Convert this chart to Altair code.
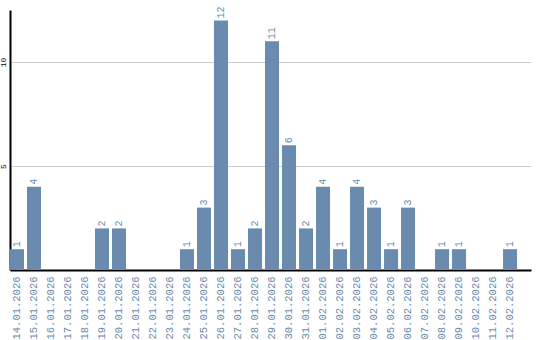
import altair as alt
import pandas as pd

dates = ["14.01.2026", "15.01.2026", "16.01.2026", "17.01.2026", "18.01.2026",
         "19.01.2026", "20.01.2026", "21.01.2026", "22.01.2026", "23.01.2026",
         "24.01.2026", "25.01.2026", "26.01.2026", "27.01.2026", "28.01.2026",
         "29.01.2026", "30.01.2026", "31.01.2026", "01.02.2026", "02.02.2026",
         "03.02.2026", "04.02.2026", "05.02.2026", "06.02.2026", "07.02.2026",
         "08.02.2026", "09.02.2026", "10.02.2026", "11.02.2026", "12.02.2026"]
values = [1, 4, 0, 0, 0, 2, 2, 0, 0, 0, 1, 3, 12, 1, 2, 11, 6, 2, 4, 1,
          4, 3, 1, 3, 0, 1, 1, 0, 0, 1]

df = pd.DataFrame({"d": dates, "v": values})

COLOR = "#6a8bad"
FONT = "Liberation Mono"

x = alt.X("d:N", sort=dates, title=None,
          scale=alt.Scale(paddingInner=0.176, paddingOuter=0.41, align=0),
          axis=alt.Axis(labelAngle=270, labelColor=COLOR, labelFont=FONT,
                        labelFontSize=10.5, ticks=False, labelPadding=6,
                        domainColor="#000", domainWidth=2, grid=False))
y = alt.Y("v:Q", title=None,
          scale=alt.Scale(domain=[0, 12.5], nice=False),
          axis=alt.Axis(values=[5, 10], labelAngle=270, labelFont=FONT,
                        labelFontSize=8, labelColor="#000", ticks=False,
                        labelPadding=3, domainColor="#000", domainWidth=2,
                        gridColor="#cccccc", grid=True, labelAlign="center",
                        labelBaseline="bottom"))

bars = alt.Chart(df).mark_bar(color=COLOR).encode(x=x, y=y)
labels = alt.Chart(df).transform_filter("datum.v > 0").mark_text(
    angle=270, align="left", baseline="middle", dx=2, color=COLOR,
    font=FONT, fontSize=10
).encode(x=alt.X("d:N", sort=dates), y="v:Q", text="v:Q")

chart = (bars + labels).properties(
    width=521, height=260,
    autosize=alt.AutoSizeParams(type="none"),
    padding={"left": 10, "top": 10, "right": 9, "bottom": 70},
).configure_view(stroke=None)

chart.save("out.html", embed_options={"renderer": "svg", "actions": False})
